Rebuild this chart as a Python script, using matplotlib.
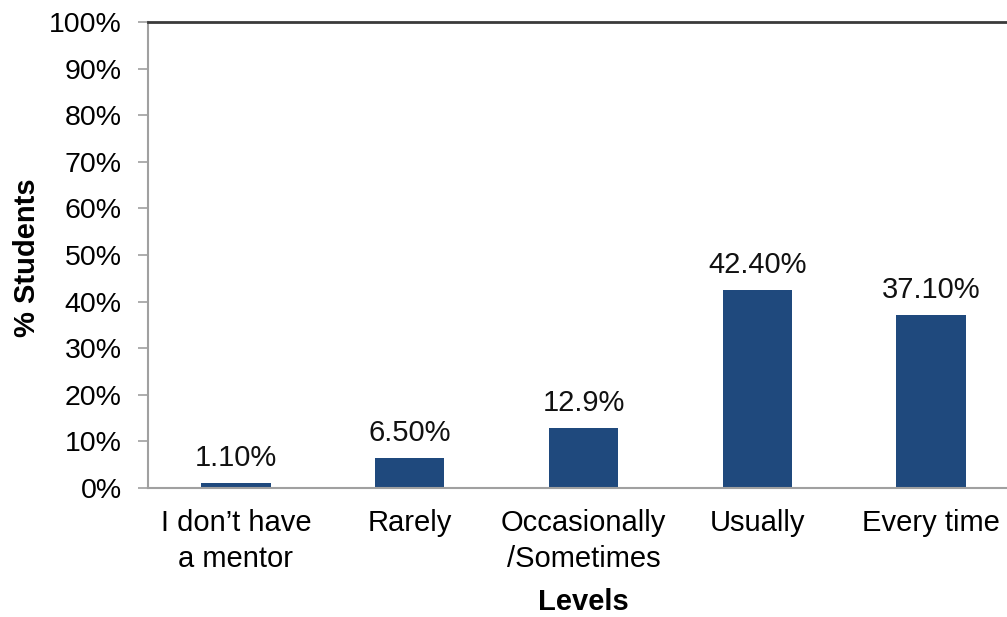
import matplotlib.pyplot as plt
from matplotlib.ticker import MultipleLocator, FuncFormatter

categories = ["I don\u2019t have\na mentor", "Rarely", "Occasionally\n/Sometimes", "Usually", "Every time"]
values = [1.1, 6.5, 12.9, 42.4, 37.1]
value_labels = ["1.10%", "6.50%", "12.9%", "42.40%", "37.10%"]

plt.rcParams['font.family'] = ['Liberation Sans', 'DejaVu Sans']
FS = 21

fig = plt.figure(figsize=(10.07, 6.17), dpi=100)
ax = fig.add_axes([148/1007, 129/617, 859/1007, 466/617])

x = list(range(len(categories)))
bars = ax.bar(x, values, width=0.40, color='#1f497d')

for xi, v, lab in zip(x, values, value_labels):
    ax.annotate(lab, (xi, v), xytext=(0, 8), textcoords='offset points',
                ha='center', va='bottom', fontsize=FS, color='#111111')

ax.set_xlim(-0.506, 4.437)
ax.set_ylim(0, 100)
ax.yaxis.set_major_locator(MultipleLocator(10))
ax.yaxis.set_major_formatter(FuncFormatter(lambda v, p: f"{v:.0f}%"))
ax.set_xticks(x)
ax.set_xticklabels(categories, fontsize=FS, linespacing=1.35)
ax.tick_params(axis='x', length=0, pad=15)
ax.tick_params(axis='y', length=7, width=1.2, color='#a0a0a0', labelsize=20.5, pad=12)

ax.spines['right'].set_visible(False)
ax.spines['top'].set_color('#3a3a3a')
ax.spines['top'].set_linewidth(2)
for s in ['left', 'bottom']:
    ax.spines[s].set_color('#a0a0a0')
    ax.spines[s].set_linewidth(1.5)

fig.text(27/1007, 1 - 258/617, "% Students", rotation=90, ha='center', va='center',
         fontsize=FS, fontweight='bold')
fig.text(583/1007, 1 - 602/617, "Levels", ha='center', va='center',
         fontsize=FS, fontweight='bold')

fig.savefig('out.png', dpi=100)
